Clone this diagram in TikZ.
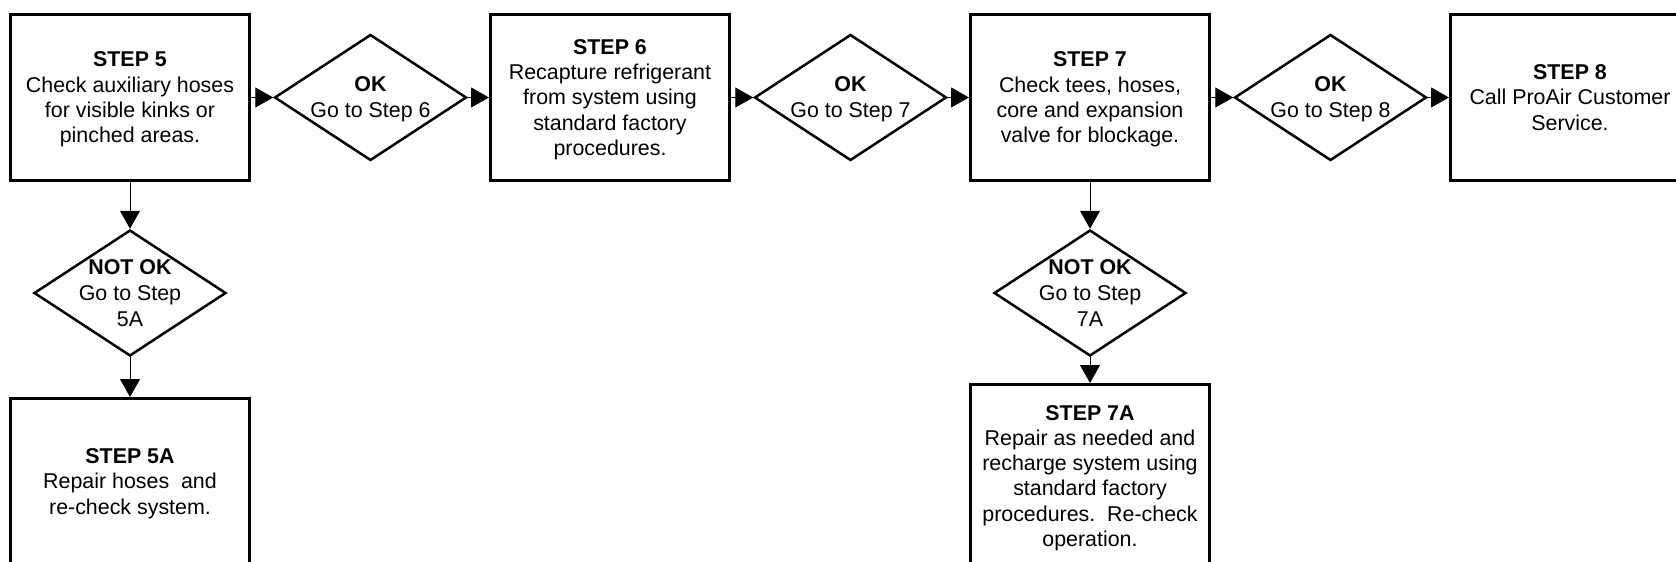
\documentclass[tikz,border=0pt]{standalone}
\usepackage{fontspec}
\setmainfont{Liberation Sans}
\usetikzlibrary{shapes.geometric,arrows.meta}
\newcommand{\ls}{\rule[-4.5pt]{0pt}{23.5pt}}
\begin{document}
\begin{tikzpicture}[x=1pt,y=-1pt,
  stepbox/.style={draw, line width=3pt, rectangle, minimum width=239pt, minimum height=166pt, align=center, inner sep=2pt, font=\fontsize{21.4}{25.3}\selectfont},
  dia/.style={draw, line width=2.5pt, diamond, minimum width=192pt, minimum height=126pt, inner sep=0pt},
  diatext/.style={align=center, font=\fontsize{21.4}{26}\selectfont, inner sep=0pt},
  conn/.style={line width=1pt, -{Triangle[length=18pt,width=20pt]}}
]
\useasboundingbox (0,0) rectangle (1676,562);
% top row
\node[stepbox] (s5) at (130,97.5) {\ls\textbf{STEP 5}\\Check auxiliary hoses\\for visible kinks or\\pinched areas.\ls};
\node[dia] (d6) at (370.5,97.5) {};
\node[diatext] (t6) at (370.5,97.5) {\ls\textbf{OK}\\Go to Step 6\ls};
\node[stepbox] (s6) at (610,97.5) {\ls\textbf{STEP 6}\\Recapture refrigerant\\from system using\\standard factory\\procedures.\ls};
\node[dia] (d7) at (850.5,97.5) {};
\node[diatext] (t7) at (850.5,97.5) {\ls\textbf{OK}\\Go to Step 7\ls};
\node[stepbox] (s7) at (1090,97.5) {\ls\textbf{STEP 7}\\Check tees, hoses,\\core and expansion\\valve for blockage.\ls};
\node[dia] (d8) at (1330.5,97.5) {};
\node[diatext] (t8) at (1330.5,97.5) {\ls\textbf{OK}\\Go to Step 8\ls};
\node[stepbox] (s8) at (1570,97.5) {\ls\textbf{STEP 8}\\Call ProAir Customer\\Service.\ls};
% left column
\node[dia] (n5) at (130,293) {};
\node[diatext] (tn5) at (130,293) {\ls\textbf{NOT OK}\\Go to Step\\5A\ls};
\node[stepbox] (s5a) at (130,481.5) {\ls\textbf{STEP 5A}\\Repair hoses\ \ and\\re-check system.\ls};
% right column
\node[dia] (n7) at (1090,293) {};
\node[diatext] (tn7) at (1090,293) {\ls\textbf{NOT OK}\\Go to Step\\7A\ls};
\node[stepbox, minimum height=183pt] (s7a) at (1090,476) {\ls\textbf{STEP 7A}\\Repair as needed and\\recharge system using\\standard factory\\procedures.\ \ Re-check\\operation.\ls};
% connectors
\draw[conn] (s5.east) -- (d6.west);
\draw[conn] (d6.east) -- (s6.west);
\draw[conn] (s6.east) -- (d7.west);
\draw[conn] (d7.east) -- (s7.west);
\draw[conn] (s7.east) -- (d8.west);
\draw[conn] (d8.east) -- (s8.west);
\draw[conn] (s5.south) -- (n5.north);
\draw[conn] (n5.south) -- (s5a.north);
\draw[conn] (s7.south) -- (n7.north);
\draw[conn] (n7.south) -- (s7a.north);
\end{tikzpicture}
\end{document}
